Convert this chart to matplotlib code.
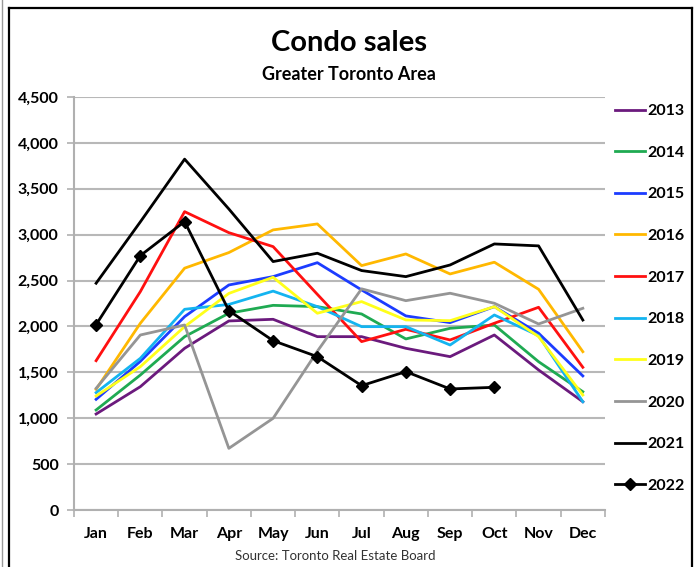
import numpy as np
import matplotlib
matplotlib.use("Agg")
import matplotlib.pyplot as plt
from matplotlib.lines import Line2D

plt.rcParams['font.family'] = ['Lato', 'DejaVu Sans']

months = ["Jan", "Feb", "Mar", "Apr", "May", "Jun", "Jul", "Aug", "Sep", "Oct", "Nov", "Dec"]

ventas2013 = [1046, 1344, 1762, 2060, 2078, 1889, 1889, 1762, 1671, 1907, 1526, 1180]
ventas2014 = [1090, 1471, 1889, 2144, 2230, 2216, 2136, 1864, 1980, 2016, 1616, 1289]
ventas2015 = [1206, 1620, 2107, 2452, 2543, 2695, 2398, 2115, 2042, 2216, 1926, 1461]
ventas2016 = [1315, 2035, 2635, 2805, 3052, 3117, 2663, 2790, 2572, 2700, 2405, 1725]
ventas2017 = [1627, 2380, 3251, 3022, 2870, 2350, 1835, 1969, 1853, 2035, 2209, 1555]
ventas2018 = [1279, 1653, 2187, 2240, 2385, 2216, 1998, 1998, 1798, 2125, 1900, 1180]
ventas2019 = [1242, 1562, 1998, 2360, 2536, 2144, 2271, 2071, 2063, 2216, 1889, 1253]
ventas2020 = [1326, 1907, 2016, 672, 999, 1730, 2410, 2281, 2362, 2253, 2027, 2198]
ventas2021 = [2471, 3140, 3823, 3280, 2707, 2798, 2609, 2543, 2670, 2899, 2878, 2070]
ventas2022 = [2020, 2772, 3143, 2172, 1845, 1671, 1355, 1508, 1319, 1337]

series = [
    ("2013", ventas2013, "#6b1a7d"),
    ("2014", ventas2014, "#1faa52"),
    ("2015", ventas2015, "#1c3cff"),
    ("2016", ventas2016, "#ffb800"),
    ("2017", ventas2017, "#ff1010"),
    ("2018", ventas2018, "#14b4f0"),
    ("2019", ventas2019, "#ffff1a"),
    ("2020", ventas2020, "#959595"),
    ("2021", ventas2021, "#000000"),
]

fig = plt.figure(figsize=(6.98, 5.67), dpi=100)
ax = fig.add_axes([0.106, 0.1005, 0.7607, 0.7284])

x = np.arange(len(months))
for nombre, valores, color in series:
    ax.plot(x[:len(valores)], valores, color=color, lw=2.0, label=nombre)
ax.plot(x[:len(ventas2022)], ventas2022, color="black", lw=2.0, marker="D",
        markersize=6.3, label="2022")

ax.set_xlim(-0.5, 11.5)
ax.set_ylim(0, 4500)
ax.set_yticks(np.arange(0, 4501, 500))
ax.set_yticklabels([f"{v:,}" for v in range(0, 4501, 500)], fontweight="bold", fontsize=11.5)
ax.set_xticks(x)
ax.set_xticklabels(months, fontweight="bold", fontsize=11.5)
ax.set_xticks(np.arange(-0.5, 12, 1), minor=True)
ax.tick_params(axis="x", which="major", length=0, pad=12)
ax.tick_params(axis="x", which="minor", length=5, color="#b0b0b0", width=1.2)
ax.tick_params(axis="y", length=5, color="#b0b0b0", width=1.2, pad=6)
ax.grid(axis="y", color="#b8b8b8", lw=1.5)
ax.set_axisbelow(True)
for lado in ["top", "right"]:
    ax.spines[lado].set_visible(False)
for lado in ["left", "bottom"]:
    ax.spines[lado].set_color("#b0b0b0")
    ax.spines[lado].set_linewidth(1.5)

leg = fig.legend(loc="upper left", bbox_to_anchor=(0.872, 0.828), frameon=False,
                 prop={"weight": "bold", "size": 11.5}, handlelength=1.9,
                 handletextpad=0.15, labelspacing=1.72, borderaxespad=0)

fig.text(0.5, 0.925, "Condo sales", ha="center", va="center", fontsize=21, fontweight="bold")
fig.text(0.5, 0.868, "Greater Toronto Area", ha="center", va="center", fontsize=13, fontweight="bold")
fig.text(0.48, 0.019, "Source: Toronto Real Estate Board", ha="center", va="center",
         fontsize=9.5, color="#333333")

# marco
W, H = 698.0, 567.0
fig.add_artist(Line2D([9 / W, 9 / W], [0, 1 - 8 / H], color="black", lw=1.6))
fig.add_artist(Line2D([692 / W, 692 / W], [0, 1 - 8 / H], color="black", lw=1.6))
fig.add_artist(Line2D([9 / W, 692 / W], [1 - 8 / H, 1 - 8 / H], color="black", lw=1.6))
fig.add_artist(Line2D([2 / W, 2 / W], [0, 1], color="#999999", lw=1))

fig.savefig("out.png", dpi=100)
